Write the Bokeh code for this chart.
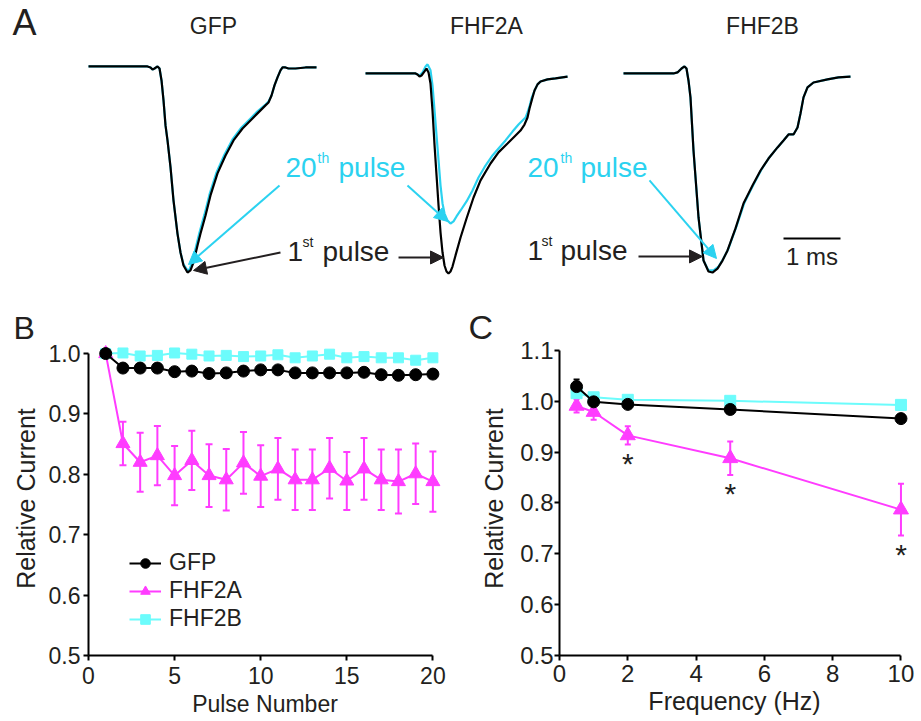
from bokeh.plotting import figure
from bokeh.models import (Range1d, FixedTicker, PrintfTickFormatter, Label, Arrow, NormalHead,
                          Whisker, TeeHead, ColumnDataSource, Legend, LegendItem)
from bokeh.layouts import column, row
from bokeh.embed import file_html
from bokeh.resources import INLINE
from bokeh.core.properties import value

FONT = "Liberation Sans"
TXT = "#231F20"
CYAN_TRACE = "#2BD2F0"
CYAN = "#6CFCFC"
MAGENTA = "#FF3CFF"

# ---------------- Panel A: current traces (time in ms, current normalised to GFP 1st-pulse peak)
gfp_first_t = [0, 1.035, 1.088, 1.123, 1.158, 1.211, 1.246, 1.281, 1.316, 1.351, 1.386, 1.439, 1.491,
               1.561, 1.614, 1.667, 1.737, 1.789, 1.842, 1.912, 1.965, 2.053, 2.140, 2.263, 2.404,
               2.544, 2.702, 2.842, 2.982, 3.105, 3.158, 3.211, 3.263, 3.316, 3.368, 3.404, 3.456,
               3.509, 3.632, 3.807, 4.0]
gfp_first_i = [0, 0, -0.005, -0.015, -0.010, 0, -0.010, -0.068, -0.165, -0.286, -0.359, -0.490, -0.650,
               -0.811, -0.903, -0.966, -1.0, -0.990, -0.951, -0.869, -0.811, -0.723, -0.626, -0.519,
               -0.432, -0.359, -0.301, -0.262, -0.223, -0.189, -0.175, -0.141, -0.092, -0.053, -0.019,
               -0.005, -0.005, -0.010, -0.010, -0.005, -0.005]
gfp_20th_t = [0, 1.035, 1.088, 1.123, 1.158, 1.211, 1.246, 1.281, 1.316, 1.351, 1.386, 1.439, 1.491,
              1.561, 1.614, 1.667, 1.737, 1.772, 1.825, 1.895, 1.947, 2.035, 2.123, 2.246, 2.386,
              2.526, 2.684, 2.825, 2.965, 3.105, 3.158, 3.211, 3.263, 3.316, 3.368, 3.404, 3.456,
              3.509, 3.632, 3.807, 4.0]
gfp_20th_i = [0, 0, -0.005, -0.015, -0.010, 0, -0.010, -0.068, -0.165, -0.286, -0.359, -0.490, -0.650,
              -0.811, -0.903, -0.961, -0.990, -0.985, -0.946, -0.864, -0.806, -0.718, -0.621, -0.514,
              -0.427, -0.354, -0.296, -0.257, -0.218, -0.185, -0.170, -0.141, -0.092, -0.053, -0.019,
              -0.005, -0.005, -0.010, -0.010, -0.005, -0.005]

fhf2a_first_t = [0, 0.877, 0.912, 0.947, 0.982, 1.035, 1.070, 1.105, 1.140, 1.175, 1.211, 1.246, 1.281,
                 1.316, 1.351, 1.386, 1.421, 1.456, 1.491, 1.526, 1.579, 1.667, 1.772, 1.895, 2.018,
                 2.193, 2.333, 2.491, 2.632, 2.719, 2.789, 2.842, 2.877, 2.930, 2.965, 3.018, 3.070,
                 3.193, 3.333, 3.544]
fhf2a_first_i = [-0.034, -0.034, -0.039, -0.049, -0.044, -0.024, -0.010, -0.029, -0.083, -0.214, -0.383,
                 -0.529, -0.675, -0.806, -0.903, -0.966, -0.995, -1.005, -0.995, -0.971, -0.917, -0.830,
                 -0.738, -0.636, -0.553, -0.471, -0.417, -0.374, -0.335, -0.311, -0.282, -0.248, -0.204,
                 -0.150, -0.117, -0.087, -0.073, -0.063, -0.058, -0.049]
fhf2a_20th_t = [0, 0.877, 0.947, 1.0, 1.053, 1.088, 1.140, 1.175, 1.211, 1.246, 1.281, 1.316, 1.351,
                1.386, 1.439, 1.491, 1.544, 1.596, 1.667, 1.772, 1.877, 1.982, 2.105, 2.228, 2.333,
                2.456, 2.579, 2.684, 2.754, 2.807, 2.842, 2.877, 2.912, 2.965, 3.018, 3.070, 3.193,
                3.333, 3.544]
fhf2a_20th_i = [-0.034, -0.034, -0.044, -0.029, 0, 0.010, -0.019, -0.092, -0.214, -0.335, -0.456, -0.578,
                -0.665, -0.714, -0.748, -0.762, -0.752, -0.728, -0.699, -0.655, -0.602, -0.539, -0.481,
                -0.432, -0.398, -0.359, -0.316, -0.282, -0.262, -0.248, -0.223, -0.194, -0.155, -0.117,
                -0.087, -0.073, -0.063, -0.058, -0.049]

fhf2b_first_t = [0, 0.877, 0.947, 1.018, 1.070, 1.105, 1.140, 1.175, 1.228, 1.316, 1.404, 1.491, 1.561,
                 1.649, 1.737, 1.825, 1.965, 2.105, 2.263, 2.404, 2.544, 2.702, 2.807, 2.895, 2.982,
                 3.053, 3.105, 3.158, 3.228, 3.333, 3.579, 3.772, 3.982]
fhf2b_first_i = [-0.034, -0.034, -0.029, -0.010, 0, -0.010, -0.068, -0.150, -0.408, -0.733, -0.942,
                 -0.995, -1.0, -0.981, -0.942, -0.893, -0.786, -0.665, -0.578, -0.505, -0.447, -0.393,
                 -0.359, -0.330, -0.330, -0.296, -0.228, -0.150, -0.102, -0.078, -0.063, -0.053, -0.049]
fhf2b_20th_t = [0, 0.877, 0.947, 1.018, 1.070, 1.105, 1.140, 1.175, 1.228, 1.316, 1.404, 1.491, 1.579,
                1.667, 1.754, 1.842, 1.982, 2.123, 2.281, 2.421, 2.544, 2.702, 2.807, 2.895, 2.982,
                3.053, 3.105, 3.158, 3.228, 3.333, 3.579, 3.772, 3.982]
fhf2b_20th_i = [-0.034, -0.034, -0.029, -0.010, 0, -0.010, -0.068, -0.150, -0.408, -0.733, -0.942,
                -0.990, -0.990, -0.971, -0.932, -0.883, -0.776, -0.660, -0.573, -0.500, -0.447, -0.393,
                -0.359, -0.330, -0.330, -0.296, -0.228, -0.150, -0.102, -0.078, -0.063, -0.053, -0.049]

trace_names = ["GFP", "FHF2A", "FHF2B"]
scale_bar_ms = 1.0

# ---------------- Panel B: relative current vs pulse number (10 Hz train)
pulse = list(range(1, 21))
gfp_b = [1.000, 0.976, 0.976, 0.976, 0.970, 0.971, 0.967, 0.968, 0.971, 0.973,
         0.973, 0.968, 0.968, 0.968, 0.968, 0.969, 0.965, 0.964, 0.965, 0.966]
fhf2a_b = [1.000, 0.851, 0.820, 0.831, 0.798, 0.823, 0.798, 0.791, 0.819, 0.797,
           0.809, 0.791, 0.791, 0.810, 0.789, 0.809, 0.791, 0.788, 0.801, 0.788]
fhf2a_b_err = [0.0, 0.036, 0.049, 0.049, 0.049, 0.049, 0.052, 0.051, 0.051, 0.051,
               0.051, 0.050, 0.050, 0.050, 0.048, 0.051, 0.050, 0.053, 0.050, 0.050]
fhf2b_b = [1.000, 1.001, 0.996, 0.997, 1.001, 0.999, 0.996, 0.997, 0.995, 0.996,
           0.998, 0.993, 0.996, 0.999, 0.993, 0.995, 0.993, 0.993, 0.989, 0.993]
b_xticks = [0, 5, 10, 15, 20]
b_yticks = [0.5, 0.6, 0.7, 0.8, 0.9, 1.0]

# ---------------- Panel C: relative current (20th pulse) vs frequency
freq = [0.5, 1, 2, 5, 10]
gfp_c = [1.029, 0.999, 0.994, 0.984, 0.966]
gfp_c_err = [0.014, 0.004, 0.003, 0.003, 0.003]
fhf2a_c = [0.991, 0.979, 0.933, 0.888, 0.787]
fhf2a_c_err = [0.013, 0.015, 0.018, 0.033, 0.051]
fhf2b_c = [1.016, 1.008, 1.003, 1.001, 0.993]
fhf2b_c_err = [0.004, 0.003, 0.002, 0.002, 0.002]
fhf2a_c_sig = [False, False, True, True, True]
c_xticks = [0, 2, 4, 6, 8, 10]
c_yticks = [0.5, 0.6, 0.7, 0.8, 0.9, 1.0, 1.1]

# =====================================================================
pa = figure(width=921, height=285, x_range=Range1d(-1.544, 14.614), y_range=Range1d(-1.063, 0.320),
            x_axis_type=None, y_axis_type=None, min_border=0, output_backend="svg",
            toolbar_location=None)
pa.outline_line_color = None

offsets = [0.0, 4.860, 9.386]
traces = [(gfp_first_t, gfp_first_i, gfp_20th_t, gfp_20th_i),
          (fhf2a_first_t, fhf2a_first_i, fhf2a_20th_t, fhf2a_20th_i),
          (fhf2b_first_t, fhf2b_first_i, fhf2b_20th_t, fhf2b_20th_i)]
for off, (t1, i1, t20, i20) in zip(offsets, traces):
    pa.line([t + off for t in t20], i20, line_color=CYAN_TRACE, line_width=2.2)
    pa.line([t + off for t in t1], i1, line_color="black", line_width=2.2)

title_x = [2.193, 6.982, 11.825]
for name, x in zip(trace_names, title_x):
    pa.add_layout(Label(x=x, y=0.194, text=name, text_font=FONT, text_font_size="23px",
                        text_color=TXT, text_align="center", text_baseline="alphabetic"))

pa.add_layout(Label(x=-1.333, y=0.213, text="A", text_font=FONT, text_font_size="36px",
                    text_color=TXT, text_baseline="alphabetic"))


def sup_label(x, y, big, sup, sup_dx, rest_dx, color):
    pa.add_layout(Label(x=x, y=y, text=big, text_font=FONT, text_font_size="28px",
                        text_color=color, text_baseline="alphabetic"))
    pa.add_layout(Label(x=x + sup_dx, y=y + 0.045, text=sup, text_font=FONT, text_font_size="14px",
                        text_color=color, text_baseline="alphabetic"))
    pa.add_layout(Label(x=x + rest_dx, y=y, text="pulse", text_font=FONT, text_font_size="28px",
                        text_color=color, text_baseline="alphabetic"))


sup_label(3.456, -0.490, "20", "th", 0.562, 0.930, CYAN_TRACE)
sup_label(7.702, -0.490, "20", "th", 0.579, 0.930, CYAN_TRACE)
sup_label(3.491, -0.898, "1", "st", 0.263, 0.614, TXT)
sup_label(7.702, -0.893, "1", "st", 0.245, 0.579, TXT)

arrows = [  # (x_start, y_start, x_end, y_end, color)
    (3.351, -0.578, 1.754, -0.961, CYAN_TRACE),
    (5.596, -0.578, 6.298, -0.752, CYAN_TRACE),
    (9.842, -0.553, 11.018, -0.932, CYAN_TRACE),
    (3.368, -0.903, 1.842, -0.990, TXT),
    (5.439, -0.927, 6.228, -0.927, TXT),
    (9.649, -0.922, 10.772, -0.922, TXT),
]
for xs, ys, xe, ye, col in arrows:
    pa.add_layout(Arrow(end=NormalHead(size=13, fill_color=col, line_color=col, line_width=1),
                        x_start=xs, y_start=ys, x_end=xe, y_end=ye, line_color=col, line_width=2))

sb_x, sb_y = 12.193, -0.835
pa.segment(x0=[sb_x], y0=[sb_y], x1=[sb_x + scale_bar_ms], y1=[sb_y], line_color="black", line_width=2)
pa.add_layout(Label(x=sb_x + scale_bar_ms / 2, y=-0.922, text="1 ms", text_font=FONT,
                    text_font_size="24px", text_color=TXT, text_align="center",
                    text_baseline="alphabetic"))


def style_axes(p, tick_size):
    for ax in p.axis:
        ax.axis_line_width = 2
        ax.axis_line_color = "black"
        ax.major_tick_line_width = 2
        ax.major_tick_line_color = "black"
        ax.major_tick_out = 5
        ax.major_tick_in = 0
        ax.minor_tick_line_color = None
        ax.major_label_text_font = FONT
        ax.major_label_text_font_size = tick_size
        ax.major_label_text_color = TXT
        ax.axis_label_text_font = FONT
        ax.axis_label_text_font_style = "normal"
        ax.axis_label_text_color = TXT


def panel_letter(p, letter, size, offset, standoff):
    p.title.text = letter
    p.title.text_font = FONT
    p.title.text_font_size = size
    p.title.text_font_style = "normal"
    p.title.text_color = TXT
    p.title.align = "left"
    p.title.offset = offset
    p.title.standoff = standoff


# =====================================================================
pb = figure(width=460, height=436, x_range=Range1d(0, 20.5), y_range=Range1d(0.5, 1.02),
            min_border_left=88, min_border_right=19, min_border_top=56, min_border_bottom=66,
            output_backend="svg", toolbar_location=None)
pb.grid.visible = False
pb.outline_line_color = None
style_axes(pb, "23px")
pb.xaxis.ticker = FixedTicker(ticks=b_xticks)
pb.yaxis.ticker = FixedTicker(ticks=b_yticks)
pb.yaxis.formatter = PrintfTickFormatter(format="%.1f")
pb.xaxis.bounds = (0, 20)
pb.yaxis.bounds = (0.5, 1.0)
pb.xaxis.major_label_standoff = 6
pb.yaxis.major_label_standoff = 3
pb.xaxis.axis_label = "Pulse Number"
pb.xaxis.axis_label_text_font_size = "23px"
pb.xaxis.axis_label_standoff = 4
pb.yaxis.axis_label = "Relative Current"
pb.yaxis.axis_label_text_font_size = "25px"
pb.yaxis.axis_label_standoff = 6
panel_letter(pb, "B", "32px", -75, -8)

src_b = ColumnDataSource(dict(x=pulse, a=fhf2a_b,
                              upper=[m + e for m, e in zip(fhf2a_b, fhf2a_b_err)],
                              lower=[m - e for m, e in zip(fhf2a_b, fhf2a_b_err)]))
pb.add_layout(Whisker(source=src_b, base="x", upper="upper", lower="lower", line_color=MAGENTA,
                      line_width=2, level="underlay",
                      upper_head=TeeHead(size=7, line_color=MAGENTA, line_width=2),
                      lower_head=TeeHead(size=7, line_color=MAGENTA, line_width=2)))
la = pb.line(pulse, fhf2a_b, line_color=MAGENTA, line_width=2)
sa = pb.scatter(pulse, fhf2a_b, marker="triangle", size=14, fill_color=MAGENTA, line_color=MAGENTA)
lb = pb.line(pulse, fhf2b_b, line_color=CYAN, line_width=2)
sbm = pb.scatter(pulse, fhf2b_b, marker="square", size=10, fill_color=CYAN, line_color=CYAN)
lg = pb.line(pulse, gfp_b, line_color="black", line_width=2)
sg = pb.scatter(pulse, gfp_b, marker="circle", size=12, fill_color="black", line_color="black")

legend = Legend(items=[LegendItem(label="GFP", renderers=[lg, sg]),
                       LegendItem(label="FHF2A", renderers=[la, sa]),
                       LegendItem(label="FHF2B", renderers=[lb, sbm])],
                location=(41, 23), glyph_width=32, glyph_height=24, label_height=24, spacing=1,
                padding=0, margin=0, border_line_color=None, background_fill_alpha=0,
                label_text_font=FONT, label_text_font_size="23px", label_text_color=TXT,
                label_standoff=8)
pb.add_layout(legend)

# =====================================================================
pc = figure(width=461, height=436, x_range=Range1d(0, 10.25), y_range=Range1d(0.5, 1.1177),
            min_border_left=99, min_border_right=12, min_border_top=56, min_border_bottom=66,
            output_backend="svg", toolbar_location=None)
pc.grid.visible = False
pc.outline_line_color = None
style_axes(pc, "24px")
pc.xaxis.ticker = FixedTicker(ticks=c_xticks)
pc.yaxis.ticker = FixedTicker(ticks=c_yticks)
pc.yaxis.formatter = PrintfTickFormatter(format="%.1f")
pc.xaxis.bounds = (0, 10)
pc.yaxis.bounds = (0.5, 1.1)
pc.xaxis.major_label_standoff = 4
pc.yaxis.major_label_standoff = 1
pc.xaxis.axis_label = "Frequency (Hz)"
pc.xaxis.axis_label_text_font_size = "25px"
pc.xaxis.axis_label_standoff = 2
pc.yaxis.axis_label = "Relative Current"
pc.yaxis.axis_label_text_font_size = "25px"
pc.yaxis.axis_label_standoff = 9
panel_letter(pc, "C", "34px", -91, -8)

for mean, err, col in [(fhf2a_c, fhf2a_c_err, MAGENTA), (fhf2b_c, fhf2b_c_err, CYAN),
                       (gfp_c, gfp_c_err, "black")]:
    s = ColumnDataSource(dict(x=freq, upper=[m + e for m, e in zip(mean, err)],
                              lower=[m - e for m, e in zip(mean, err)]))
    pc.add_layout(Whisker(source=s, base="x", upper="upper", lower="lower", line_color=col,
                          line_width=2, level="underlay",
                          upper_head=TeeHead(size=6, line_color=col, line_width=2),
                          lower_head=TeeHead(size=6, line_color=col, line_width=2)))

pc.line(freq, fhf2a_c, line_color=MAGENTA, line_width=2)
pc.scatter(freq, fhf2a_c, marker="triangle", size=15, fill_color=MAGENTA, line_color=MAGENTA)
pc.line(freq, fhf2b_c, line_color=CYAN, line_width=2)
pc.scatter(freq, fhf2b_c, marker="square", size=11, fill_color=CYAN, line_color=CYAN)
pc.line(freq, gfp_c, line_color="black", line_width=2)
pc.scatter(freq, gfp_c, marker="circle", size=12, fill_color="black", line_color="black")

star_x = [f for f, s in zip(freq, fhf2a_c_sig) if s]
star_y = [m - e for m, e, s in zip(fhf2a_c, fhf2a_c_err, fhf2a_c_sig) if s]
pc.text(x=star_x, y=star_y, text=["*"] * len(star_x), text_font=value(FONT), text_font_size="30px",
        text_color=TXT, text_align="center", text_baseline="top", y_offset=2)

layout = column(pa, row(pb, pc, spacing=0), spacing=0)
open("out.html", "w").write(file_html(layout, INLINE))
